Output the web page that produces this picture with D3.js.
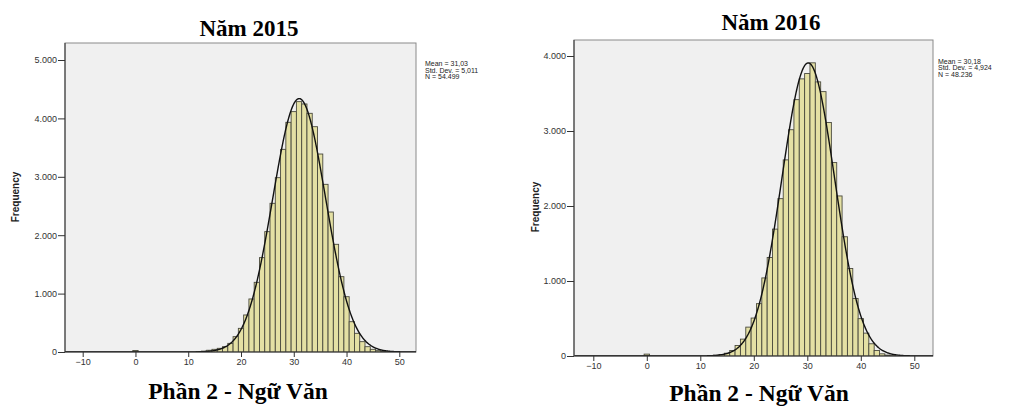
<!DOCTYPE html>
<html><head><meta charset="utf-8">
<script src="https://cdn.jsdelivr.net/npm/d3@7/dist/d3.min.js"></script>
<style>
html,body{margin:0;padding:0;background:#fff;}
svg{display:block;}
</style></head>
<body>
<svg id="chart" width="1024" height="416"></svg>
<script>
// ---------- DATA ----------
const titles = ["Năm 2015", "Năm 2016"];
const subtitle = "Phần 2 - Ngữ Văn";
const yLabel = "Frequency";
const xTicks = [-10, 0, 10, 20, 30, 40, 50];
const yTicks2015 = [0, 1000, 2000, 3000, 4000, 5000];
const yTicks2016 = [0, 1000, 2000, 3000, 4000];

// bin centres (bin width 1) and frequencies
const bins2015 = [0, 12, 13, 14, 15, 16, 17, 18, 19, 20, 21, 22, 23, 24, 25, 26, 27, 28, 29, 30,
                  31, 32, 33, 34, 35, 36, 37, 38, 39, 40, 41, 42, 43, 44, 45, 46, 47, 48];
const freq2015 = [25, 8, 15, 30, 46, 63, 91, 148, 263, 405, 634, 908, 1193, 1616, 2061, 2546, 2985, 3470, 3933, 4116,
                  4287, 4247, 4087, 3858, 3390, 2871, 2397, 1844, 1290, 947, 519, 320, 177, 91, 46, 23, 10, 5];

const bins2016 = [0, 13, 14, 15, 16, 17, 18, 19, 20, 21, 22, 23, 24, 25, 26, 27, 28, 29, 30,
                  31, 32, 33, 34, 35, 36, 37, 38, 39, 40, 41, 42, 43, 44, 45, 46];
const freq2016 = [25, 10, 20, 37, 74, 140, 225, 385, 506, 698, 1041, 1313, 1692, 2098, 2615, 3017, 3418, 3695, 3766,
                  3909, 3655, 3525, 3114, 2579, 2134, 1590, 1167, 766, 498, 305, 163, 74, 29, 12, 5];

// fitted-normal statistics shown in the legend
const stats2015 = {mean: 31.03, sd: 5.011, n: 54499};
const stats2016 = {mean: 30.18, sd: 4.924, n: 48236};
const legend2015 = ["Mean = 31,03", "Std. Dev. = 5,011", "N = 54.499"];
const legend2016 = ["Mean = 30,18", "Std. Dev. = 4,924", "N = 48.236"];

// ---------- LAYOUT ----------
const panels = [
  {bins: bins2015, freq: freq2015, stats: stats2015, legend: legend2015, title: titles[0], yTicks: yTicks2015,
   box: {x0: 65, x1: 416, y0: 43, y1: 352}, xRange: [82.7, 399.3], yDom: 5000, yTop: 60,
   titleX: 249, titleY: 36, subX: 238, subY: 399, fx: 19, fy: 197, legX: 425, legY: 66},
  {bins: bins2016, freq: freq2016, stats: stats2016, legend: legend2016, title: titles[1], yTicks: yTicks2016,
   box: {x0: 574, x1: 933, y0: 40, y1: 356}, xRange: [593.3, 914.3], yDom: 4000, yTop: 56,
   titleX: 771, titleY: 30, subX: 759, subY: 401, fx: 539, fy: 207, legX: 938, legY: 63.5}
];

const svg = d3.select("#chart");
const loc = d3.formatLocale({decimal: ",", thousands: ".", grouping: [3], currency: ["", ""]});
const fmt = loc.format(",");
const sans = "'Liberation Sans', Arial, sans-serif";
const serif = "'Liberation Serif', 'Times New Roman', serif";

panels.forEach((p, i) => {
  const g = svg.append("g");
  const b = p.box;
  const x = d3.scaleLinear().domain([-10, 50]).range(p.xRange);
  const y = d3.scaleLinear().domain([0, p.yDom]).range([b.y1, p.yTop]);

  const clipId = "clip" + i;
  svg.append("clipPath").attr("id", clipId).append("rect")
    .attr("x", b.x0).attr("y", b.y0).attr("width", b.x1 - b.x0).attr("height", b.y1 - b.y0);

  // plot background
  g.append("rect").attr("x", b.x0).attr("y", b.y0).attr("width", b.x1 - b.x0).attr("height", b.y1 - b.y0)
    .attr("fill", "#f0f0f0").attr("stroke", "#8a8a8a").attr("stroke-width", 1);

  // bars
  const data = p.bins.map((c, k) => ({c, f: p.freq[k]}));
  g.append("g").attr("clip-path", `url(#${clipId})`).selectAll("rect").data(data).join("rect")
    .attr("x", d => x(d.c - 0.5))
    .attr("width", d => x(d.c + 0.5) - x(d.c - 0.5))
    .attr("y", d => y(d.f))
    .attr("height", d => y(0) - y(d.f))
    .attr("fill", "#e4e0a4")
    .attr("stroke", "#4a4a3e")
    .attr("stroke-width", 0.9);

  // normal curve
  const s = p.stats;
  const pts = d3.range(-13.5, 54, 0.1).map(v => [v, s.n / (s.sd * Math.sqrt(2 * Math.PI)) * Math.exp(-((v - s.mean) ** 2) / (2 * s.sd * s.sd))]);
  g.append("path").attr("clip-path", `url(#${clipId})`)
    .attr("d", d3.line().x(d => x(d[0])).y(d => y(d[1])).curve(d3.curveLinear)(pts))
    .attr("fill", "none").attr("stroke", "#111").attr("stroke-width", 1.4);

  // axes
  const ya = g.append("g").attr("transform", `translate(${b.x0},0)`)
    .call(d3.axisLeft(y).tickValues(p.yTicks).tickFormat(fmt).tickSize(7).tickPadding(1));
  const xa = g.append("g").attr("transform", `translate(0,${b.y1})`)
    .call(d3.axisBottom(x).tickValues(xTicks).tickFormat(d3.format("d")).tickSize(5).tickPadding(2));
  [ya, xa].forEach(a => {
    a.select(".domain").remove();
    a.selectAll("line").attr("stroke", "#333");
    a.selectAll("text").attr("font-family", sans).attr("font-size", 9).attr("fill", "#333");
  });
  // axis lines
  g.append("line").attr("x1", b.x0).attr("x2", b.x0).attr("y1", b.y0).attr("y2", b.y1).attr("stroke", "#333");
  g.append("line").attr("x1", b.x0).attr("x2", b.x1).attr("y1", b.y1).attr("y2", b.y1).attr("stroke", "#333");

  // y label
  g.append("text").attr("transform", `translate(${p.fx},${p.fy}) rotate(-90)`)
    .attr("text-anchor", "middle").attr("font-family", sans).attr("font-weight", "bold")
    .attr("font-size", 10).attr("fill", "#222").text(yLabel);

  // legend
  g.append("g").selectAll("text").data(p.legend).join("text")
    .attr("x", p.legX).attr("y", (d, k) => p.legY + k * 6.5)
    .attr("font-family", sans).attr("font-size", 7).attr("fill", "#222").text(d => d);

  // titles
  g.append("text").attr("x", p.titleX).attr("y", p.titleY).attr("text-anchor", "middle")
    .attr("font-family", serif).attr("font-weight", "bold").attr("font-size", 23).attr("fill", "#000").text(p.title);
  g.append("text").attr("x", p.subX).attr("y", p.subY).attr("text-anchor", "middle")
    .attr("font-family", serif).attr("font-weight", "bold").attr("font-size", 23.5).attr("fill", "#000").text(subtitle);
});
</script>
</body></html>
